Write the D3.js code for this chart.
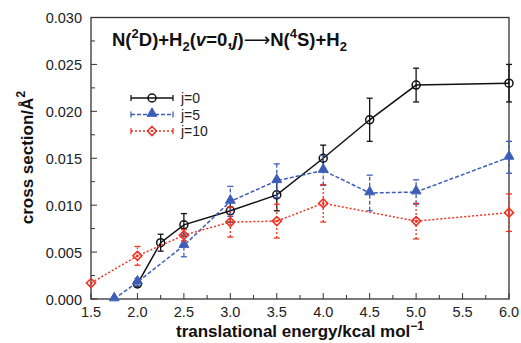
<!DOCTYPE html>
<html lang="en">
<head>
  <meta charset="UTF-8">
  <title>N(2D)+H2 cross sections</title>
  <script src="https://d3js.org/d3.v7.min.js"></script>
  <style>
    body { margin: 0; background: #fff; }
    svg { display: block; font-family: "Liberation Sans", Arial, Helvetica, sans-serif; }
    .tick-label { font-size: 14.5px; fill: #222; }
    .axis-title { font-size: 17px; font-weight: bold; fill: #111; }
  </style>
</head>
<body>
  <svg id="chart" width="521" height="343"></svg>

  <script>
    // energies (kcal/mol), cross sections (A^2) and error half-widths
    const energyJ0 = [2.0, 2.25, 2.5, 3.0, 3.5, 4.0, 4.5, 5.0, 6.0];
    const sigmaJ0  = [0.0016, 0.0060, 0.0079, 0.0094, 0.0111, 0.0150, 0.0191, 0.0228, 0.0230];
    const errJ0    = [0.0003, 0.0009, 0.0012, 0.0012, 0.0017, 0.0014, 0.0023, 0.0018, 0.0020];

    const energyJ5 = [1.75, 2.0, 2.5, 3.0, 3.5, 4.0, 4.5, 5.0, 6.0];
    const sigmaJ5  = [0.0000, 0.0018, 0.0057, 0.0104, 0.0126, 0.0137, 0.0113, 0.0114, 0.0151];
    const errJ5    = [0, 0.0004, 0.0012, 0.0016, 0.0018, 0.0016, 0.0019, 0.0013, 0.0017];

    const energyJ10 = [1.5, 2.0, 2.5, 3.0, 3.5, 4.0, 5.0, 6.0];
    const sigmaJ10  = [0.0017, 0.0046, 0.0068, 0.0082, 0.0083, 0.0102, 0.0083, 0.0092];
    const errJ10    = [0, 0.0010, 0.0006, 0.0016, 0.0018, 0.0020, 0.0019, 0.0020];

    const seriesNames = ["j=0", "j=5", "j=10"];
    const xTicks = [1.5, 2.0, 2.5, 3.0, 3.5, 4.0, 4.5, 5.0, 5.5, 6.0];
    const yTicks = [0, 0.005, 0.010, 0.015, 0.020, 0.025, 0.030];

    const svg = d3.select("#chart");
    const plotLeft = 91, plotRight = 509, plotTop = 17.5, plotBottom = 299;

    const x = d3.scaleLinear().domain([1.5, 6.0]).range([plotLeft, plotRight]);
    const y = d3.scaleLinear().domain([0, 0.030]).range([plotBottom, plotTop]);

    const styles = [
      { color: "#111111", dash: null,  marker: "circle"   },
      { color: "#3d5db8", dash: "4,2", marker: "triangle" },
      { color: "#ee3322", dash: "2,2", marker: "diamond"  }
    ];

    const series = [
      d3.zip(energyJ0, sigmaJ0, errJ0),
      d3.zip(energyJ5, sigmaJ5, errJ5),
      d3.zip(energyJ10, sigmaJ10, errJ10)
    ];

    // frame
    svg.append("rect")
      .attr("x", plotLeft).attr("y", plotTop)
      .attr("width", plotRight - plotLeft).attr("height", plotBottom - plotTop)
      .attr("fill", "none").attr("stroke", "#333").attr("stroke-width", 1.3);

    // inward ticks (major + minor)
    const ticks = svg.append("g").attr("stroke", "#333").attr("stroke-width", 1);
    d3.range(1.5, 6.01, 0.25).forEach(v => {
      const major = Math.abs(v * 2 - Math.round(v * 2)) < 1e-6;
      ticks.append("line")
        .attr("x1", x(v)).attr("x2", x(v))
        .attr("y1", plotBottom).attr("y2", plotBottom - (major ? 6 : 4));
    });
    d3.range(0, 0.03001, 0.0025).forEach(v => {
      const major = Math.abs(v / 0.005 - Math.round(v / 0.005)) < 1e-6;
      ticks.append("line")
        .attr("x1", plotLeft).attr("x2", plotLeft + (major ? 6 : 4))
        .attr("y1", y(v)).attr("y2", y(v));
    });

    svg.append("g").selectAll("text")
      .data(xTicks).enter().append("text")
      .attr("class", "tick-label")
      .attr("x", d => x(d)).attr("y", 316.5)
      .attr("text-anchor", "middle")
      .text(d => d.toFixed(1));

    svg.append("g").selectAll("text")
      .data(yTicks).enter().append("text")
      .attr("class", "tick-label")
      .attr("x", 82).attr("y", d => y(d) + 5.5)
      .attr("text-anchor", "end")
      .text(d => d.toFixed(3));

    // axis titles
    const xt = svg.append("text").attr("class", "axis-title")
      .attr("x", 300).attr("y", 337).attr("text-anchor", "middle");
    xt.append("tspan").text("translational energy/kcal mol");
    xt.append("tspan").attr("dy", -7).style("font-size", "12px").text("\u22121");

    const yt = svg.append("text").attr("class", "axis-title")
      .attr("transform", "translate(33,157.5) rotate(-90)")
      .attr("text-anchor", "middle");
    yt.append("tspan").text("cross section/\u00C5");
    yt.append("tspan").attr("dy", -8).style("font-size", "12.5px").text("2");

    // title
    const tt = svg.append("text")
      .attr("x", 112).attr("y", 46)
      .style("font-size", "18.5px").style("font-weight", "bold").attr("fill", "#111");
    tt.append("tspan").text("N(");
    tt.append("tspan").attr("dy", -8).style("font-size", "13px").text("2");
    tt.append("tspan").attr("dy", 8).text("D)+H");
    tt.append("tspan").attr("dy", 5).style("font-size", "13px").text("2");
    tt.append("tspan").attr("dy", -5).text("(");
    tt.append("tspan").style("font-style", "italic").text("v");
    tt.append("tspan").text("=0,");
    tt.append("tspan").style("font-style", "italic").text("j");
    tt.append("tspan").text(")");
    tt.append("tspan").style("font-weight", "normal").style("font-family", "DejaVu Sans").text("\u27F6");
    tt.append("tspan").text("N(");
    tt.append("tspan").attr("dy", -8).style("font-size", "13px").text("4");
    tt.append("tspan").attr("dy", 8).text("S)+H");
    tt.append("tspan").attr("dy", 5).style("font-size", "13px").text("2");

    function drawMarker(g, kind, cx, cy, color) {
      if (kind === "circle") {
        g.append("circle").attr("cx", cx).attr("cy", cy).attr("r", 4)
          .attr("fill", "none").attr("stroke", color).attr("stroke-width", 1.5);
      } else if (kind === "triangle") {
        g.append("path")
          .attr("d", d3.symbol().type(d3.symbolTriangle).size(42)())
          .attr("transform", `translate(${cx},${cy - 1})`)
          .attr("fill", color).attr("stroke", color).attr("stroke-width", 1);
      } else {
        g.append("path")
          .attr("d", `M0,-4.5L4.5,0L0,4.5L-4.5,0Z`)
          .attr("transform", `translate(${cx},${cy})`)
          .attr("fill", "none").attr("stroke", color).attr("stroke-width", 1.6);
        g.append("circle").attr("cx", cx).attr("cy", cy).attr("r", 1.3).attr("fill", color);
      }
    }

    const line = d3.line().x(d => x(d[0])).y(d => y(d[1]));

    series.forEach((data, i) => {
      const st = styles[i];
      const g = svg.append("g");

      // error bars
      data.filter(d => d[2] > 0).forEach(d => {
        const px = x(d[0]);
        g.append("line")
          .attr("x1", px).attr("x2", px)
          .attr("y1", y(d[1] - d[2])).attr("y2", y(d[1] + d[2]))
          .attr("stroke", st.color).attr("stroke-width", 1.3)
          .attr("stroke-dasharray", st.dash);
        [d[1] - d[2], d[1] + d[2]].forEach(v => {
          g.append("line")
            .attr("x1", px - 3).attr("x2", px + 3)
            .attr("y1", y(v)).attr("y2", y(v))
            .attr("stroke", st.color).attr("stroke-width", 1.3);
        });
      });

      g.append("path").datum(data)
        .attr("d", line)
        .attr("fill", "none").attr("stroke", st.color).attr("stroke-width", 1.5)
        .attr("stroke-dasharray", st.dash);

      data.forEach(d => drawMarker(g, st.marker, x(d[0]), y(d[1]), st.color));
    });

    // legend
    const legY = [98, 114.5, 131];
    seriesNames.forEach((name, i) => {
      const st = styles[i];
      const g = svg.append("g");
      g.append("line")
        .attr("x1", 131).attr("x2", 173).attr("y1", legY[i]).attr("y2", legY[i])
        .attr("stroke", st.color).attr("stroke-width", 1.5)
        .attr("stroke-dasharray", st.dash);
      [131, 173].forEach(px => {
        g.append("line")
          .attr("x1", px).attr("x2", px)
          .attr("y1", legY[i] - 3).attr("y2", legY[i] + 3)
          .attr("stroke", st.color).attr("stroke-width", 1.3);
      });
      drawMarker(g, st.marker, 152, legY[i], st.color);
      g.append("text")
        .attr("x", 181).attr("y", legY[i] + 5)
        .style("font-size", "14px").attr("fill", "#222")
        .text(name);
    });
  </script>
</body>
</html>
